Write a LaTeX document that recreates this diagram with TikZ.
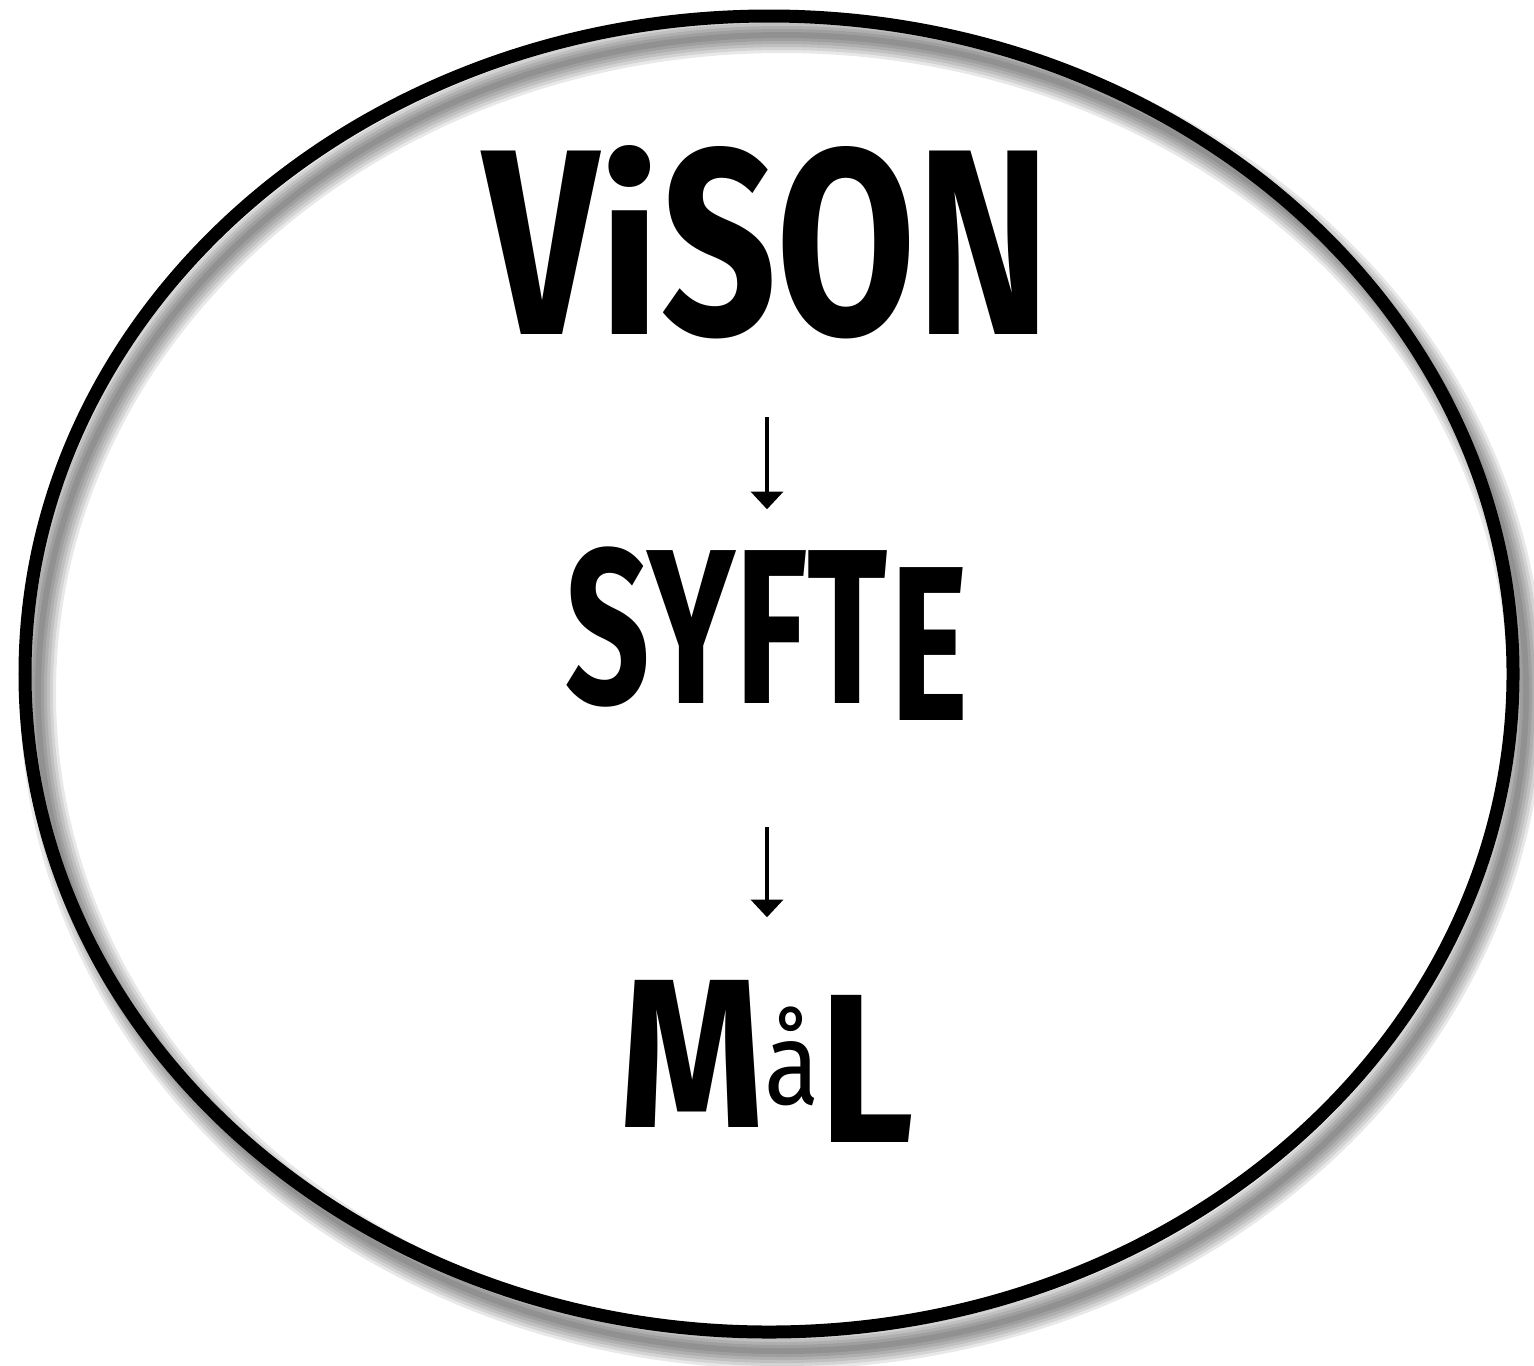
\documentclass[tikz,border=0pt]{standalone}
\usepackage{fontspec}
\setmainfont{Fira Sans}
\usetikzlibrary{arrows.meta, positioning, shapes.geometric}

\begin{document}
\begin{tikzpicture}[
  node distance=2cm,
  word/.style={inner sep=0pt, outer sep=0pt, font=\bfseries},
  ring/.style={ellipse, draw=black, line width=0.13cm, inner sep=0pt,
               minimum width=14.88cm, minimum height=13.16cm},
  halo/.style={draw=black, opacity=0.09},
  arrow/.style={-{Triangle[width=9pt, length=5pt]}, line width=1.4pt}
]
\useasboundingbox (0,0) rectangle (15.34,-13.65);

% soft shadow behind the frame
\foreach \w in {0.36,0.30,0.24,0.18,0.12,0.06}
  \draw[halo, line width=\w cm] (7.82,-6.93) ellipse [x radius=7.44, y radius=6.58];
\node[ring] (frame) at (7.69,-6.74) {};

\node[word] (vison) at (7.67,-2.425)
  {\resizebox{5.67cm}{1.89cm}{V\scalebox{1.1}[0.88]{i}SON}};
\node[word, below=2.08cm of vison] (syfte)
  {\resizebox*{4.03cm}{1.73cm}{SYFT\kern0.02em\raisebox{-0.074em}{E}}};
\node[word, below=2.6cm of syfte] (mal)
  {\resizebox*{2.95cm}{1.62cm}{M\raisebox{0.11em}{\scalebox{0.55}{\mdseries å}}\raisebox{-0.07em}{L}}};

\draw[arrow, shorten <=0.78cm, shorten >=0.38cm] (vison) -- (syfte);
\draw[arrow, shorten <=1.07cm, shorten >=0.63cm] (syfte) -- (mal);
\end{tikzpicture}
\end{document}
